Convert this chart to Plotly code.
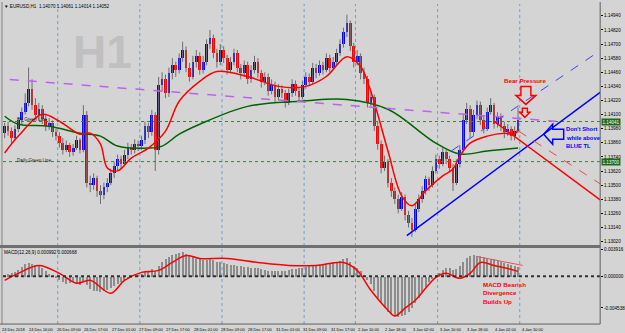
import plotly.graph_objects as go

W, H = 625, 333

# ---------------- data (EURUSD H1) ----------------
opens = [1.1394,1.1400,1.1396,1.1390,1.1398,1.1405,1.1412,1.1420,1.1432,1.1418,
         1.1410,1.1415,1.1406,1.1400,1.1403,1.1395,1.1392,1.1386,1.1380,1.1384,
         1.1378,1.1382,1.1388,1.1380,1.1410,1.1352,1.1350,1.1356,1.1345,1.1342,
         1.1348,1.1352,1.1360,1.1366,1.1372,1.1368,1.1376,1.1382,1.1380,1.1385,
         1.1383,1.1388,1.1400,1.1395,1.1410,1.1380,1.1435,1.1440,1.1428,1.1445,
         1.1452,1.1448,1.1458,1.1465,1.1450,1.1442,1.1455,1.1460,1.1448,1.1455,
         1.1470,1.1475,1.1462,1.1455,1.1465,1.1458,1.1448,1.1455,1.1462,1.1450,
         1.1445,1.1452,1.1440,1.1448,1.1455,1.1445,1.1438,1.1442,1.1430,1.1435,
         1.1425,1.1432,1.1428,1.1420,1.1428,1.1436,1.1430,1.1425,1.1435,1.1442,
         1.1438,1.1450,1.1445,1.1452,1.1448,1.1458,1.1450,1.1455,1.1462,1.1470,
         1.1480,1.1488,1.1468,1.1455,1.1460,1.1445,1.1440,1.1420,1.1425,1.1400,
         1.1385,1.1365,1.1370,1.1352,1.1345,1.1338,1.1330,1.1340,1.1325,1.1318,
         1.1312,1.1330,1.1338,1.1345,1.1355,1.1350,1.1362,1.1372,1.1368,1.1378,
         1.1372,1.1365,1.1352,1.1368,1.1380,1.1405,1.1415,1.1395,1.1410,1.1418,
         1.1405,1.1398,1.1412,1.1418,1.1402,1.1408,1.1400,1.1395,1.1398,1.1392,
         1.1396]
highs = [1.1403,1.1404,1.1399,1.1401,1.1408,1.1416,1.1428,1.1450,1.1440,1.1424,
         1.1420,1.1418,1.1410,1.1407,1.1405,1.1398,1.1395,1.1390,1.1388,1.1386,
         1.1385,1.1392,1.1390,1.1418,1.1413,1.1358,1.1360,1.1358,1.1350,1.1352,
         1.1356,1.1364,1.1370,1.1376,1.1375,1.1380,1.1386,1.1385,1.1389,1.1388,
         1.1392,1.1404,1.1403,1.1414,1.1412,1.1442,1.1446,1.1444,1.1450,1.1458,
         1.1455,1.1462,1.1472,1.1468,1.1454,1.1460,1.1465,1.1463,1.1460,1.1474,
         1.1482,1.1478,1.1466,1.1470,1.1468,1.1461,1.1459,1.1466,1.1465,1.1453,
         1.1456,1.1455,1.1452,1.1460,1.1458,1.1448,1.1446,1.1445,1.1440,1.1438,
         1.1436,1.1435,1.1431,1.1432,1.1440,1.1439,1.1433,1.1439,1.1446,1.1445,
         1.1454,1.1453,1.1456,1.1455,1.1462,1.1461,1.1459,1.1466,1.1474,1.1484,
         1.1495,1.1490,1.1471,1.1465,1.1462,1.1450,1.1443,1.1430,1.1427,1.1404,
         1.1388,1.1375,1.1372,1.1356,1.1348,1.1342,1.1344,1.1342,1.1328,1.1322,
         1.1334,1.1342,1.1349,1.1358,1.1357,1.1366,1.1376,1.1375,1.1382,1.1380,
         1.1375,1.1368,1.1372,1.1384,1.1410,1.1420,1.1418,1.1414,1.1422,1.1421,
         1.1409,1.1416,1.1424,1.1420,1.1412,1.1411,1.1404,1.1402,1.1400,1.1400,
         1.1416]
lows = [1.1390,1.1392,1.1386,1.1388,1.1395,1.1402,1.1410,1.1417,1.1414,1.1406,
        1.1405,1.1402,1.1396,1.1397,1.1391,1.1388,1.1382,1.1376,1.1378,1.1374,
        1.1375,1.1380,1.1377,1.1378,1.1348,1.1344,1.1346,1.1340,1.1334,1.1338,
        1.1344,1.1350,1.1356,1.1362,1.1364,1.1366,1.1372,1.1376,1.1377,1.1379,
        1.1380,1.1385,1.1390,1.1392,1.1362,1.1376,1.1430,1.1424,1.1425,1.1440,
        1.1442,1.1445,1.1455,1.1446,1.1438,1.1440,1.1450,1.1444,1.1445,1.1452,
        1.1466,1.1458,1.1450,1.1452,1.1454,1.1444,1.1445,1.1452,1.1446,1.1440,
        1.1442,1.1436,1.1437,1.1445,1.1441,1.1433,1.1435,1.1426,1.1427,1.1420,
        1.1422,1.1424,1.1416,1.1418,1.1425,1.1426,1.1421,1.1423,1.1432,1.1434,
        1.1436,1.1441,1.1443,1.1444,1.1446,1.1446,1.1448,1.1452,1.1460,1.1467,
        1.1476,1.1464,1.1450,1.1452,1.1440,1.1436,1.1416,1.1417,1.1396,1.1380,
        1.1360,1.1362,1.1348,1.1340,1.1334,1.1326,1.1328,1.1320,1.1314,1.1306,
        1.1310,1.1327,1.1335,1.1342,1.1345,1.1348,1.1360,1.1364,1.1366,1.1368,
        1.1361,1.1345,1.1350,1.1365,1.1378,1.1402,1.1390,1.1392,1.1406,1.1401,
        1.1394,1.1396,1.1410,1.1398,1.1399,1.1396,1.1390,1.1392,1.1388,1.1388,
        1.1394]
closes = [1.1400,1.1396,1.1390,1.1398,1.1405,1.1412,1.1420,1.1432,1.1418,1.1410,
          1.1415,1.1406,1.1400,1.1403,1.1395,1.1392,1.1386,1.1380,1.1384,1.1378,
          1.1382,1.1388,1.1380,1.1410,1.1352,1.1350,1.1356,1.1345,1.1342,1.1348,
          1.1352,1.1360,1.1366,1.1372,1.1368,1.1376,1.1382,1.1380,1.1385,1.1383,
          1.1388,1.1400,1.1395,1.1410,1.1380,1.1435,1.1440,1.1428,1.1445,1.1452,
          1.1448,1.1458,1.1465,1.1450,1.1442,1.1455,1.1460,1.1448,1.1455,1.1470,
          1.1475,1.1462,1.1455,1.1465,1.1458,1.1448,1.1455,1.1462,1.1450,1.1445,
          1.1452,1.1440,1.1448,1.1455,1.1445,1.1438,1.1442,1.1430,1.1435,1.1425,
          1.1432,1.1428,1.1420,1.1428,1.1436,1.1430,1.1425,1.1435,1.1442,1.1438,
          1.1450,1.1445,1.1452,1.1448,1.1458,1.1450,1.1455,1.1462,1.1470,1.1480,
          1.1488,1.1468,1.1455,1.1460,1.1445,1.1440,1.1420,1.1425,1.1400,1.1385,
          1.1365,1.1370,1.1352,1.1345,1.1338,1.1330,1.1340,1.1325,1.1318,1.1312,
          1.1330,1.1338,1.1345,1.1355,1.1350,1.1362,1.1372,1.1368,1.1378,1.1372,
          1.1365,1.1352,1.1368,1.1380,1.1405,1.1415,1.1395,1.1410,1.1418,1.1405,
          1.1398,1.1412,1.1418,1.1402,1.1408,1.1400,1.1395,1.1398,1.1392,1.1396,
          1.1405]

# moving averages (bar index, price)
ema_bars = [0, 4, 11, 16, 22, 25, 28, 30, 33, 37, 42, 47, 51, 57, 62, 71, 80, 88, 94,
            100, 104, 107, 112, 116, 119, 123, 128, 131, 133, 136, 141, 146, 149, 150]
ema_vals = [1.13773, 1.13917, 1.14103, 1.14043, 1.13933, 1.13942, 1.13849, 1.13646,
            1.13621, 1.13730, 1.13815, 1.13959, 1.14213, 1.14382, 1.14466, 1.14424,
            1.14340, 1.14340, 1.14424, 1.14593, 1.14509, 1.14297, 1.13790, 1.13409,
            1.13325, 1.13451, 1.13578, 1.13637, 1.13747, 1.13857, 1.13917, 1.13942,
            1.13933, 1.13976]
sma_bars = [0, 4, 13, 22, 28, 33, 42, 46, 51, 57, 71, 86, 100, 112, 123, 126, 133, 141, 150]
sma_vals = [1.14086, 1.14018, 1.14001, 1.13942, 1.13917, 1.13832, 1.13815, 1.13832,
            1.13933, 1.14018, 1.14170, 1.14213, 1.14229, 1.14145, 1.13917, 1.13857,
            1.13764, 1.13790, 1.13815]

# MACD (12,26,9)
macd_main = [0.0003,0.0004,0.0005,0.0007,0.0010,0.0014,0.0018,0.0020,0.0019,0.0017,
             0.0015,0.0012,0.0008,0.0004,0.0001,-0.0002,-0.0005,-0.0008,-0.0010,-0.0009,
             -0.0008,-0.0010,-0.0012,-0.0006,-0.0012,-0.0018,-0.0020,-0.0021,-0.0022,-0.0021,
             -0.0019,-0.0016,-0.0013,-0.0010,-0.0008,-0.0005,-0.0003,-0.0001,0.0000,0.0002,
             0.0004,0.0007,0.0008,0.0011,0.0009,0.0016,0.0022,0.0025,0.0028,0.0031,
             0.0033,0.0034,0.0035,0.0033,0.0030,0.0028,0.0026,0.0025,0.0024,0.0024,
             0.0025,0.0024,0.0022,0.0021,0.0020,0.0018,0.0017,0.0017,0.0016,0.0015,
             0.0014,0.0014,0.0013,0.0013,0.0012,0.0011,0.0010,0.0009,0.0009,0.0008,
             0.0008,0.0008,0.0009,0.0010,0.0011,0.0011,0.0012,0.0013,0.0014,0.0015,
             0.0016,0.0016,0.0017,0.0018,0.0019,0.0020,0.0021,0.0022,0.0023,0.0025,
             0.0027,0.0022,0.0016,0.0012,0.0008,0.0002,-0.0005,-0.0010,-0.0020,-0.0030,
             -0.0038,-0.0045,-0.0050,-0.0054,-0.0057,-0.0058,-0.0057,-0.0055,-0.0050,-0.0045,
             -0.0038,-0.0030,-0.0022,-0.0015,-0.0008,-0.0003,0.0002,0.0006,0.0010,0.0012,
             0.0012,0.0010,0.0011,0.0016,0.0022,0.0027,0.0030,0.0031,0.0030,0.0030,
             0.0028,0.0027,0.0026,0.0025,0.0023,0.0022,0.0020,0.0018,0.0017,0.0015,
             0.0014]
sig_bars = [0, 4, 10, 16, 21, 25, 31, 35, 40, 45, 49, 53, 57, 65, 74, 83, 91, 99, 103,
            107, 112, 114, 117, 120, 126, 129, 133, 136, 139, 143, 147, 150]
sig_vals = [-0.00057, 0.00043, 0.00157, 0.00043, -0.00100, -0.00057, -0.00243, -0.00057,
            0.00057, 0.00086, 0.00200, 0.00300, 0.00257, 0.00257, 0.00200, 0.00157,
            0.00157, 0.00200, 0.00086, -0.00200, -0.00486, -0.00571, -0.00457, -0.00343,
            -0.00014, 0.00043, -0.00029, 0.00043, 0.00200, 0.00157, 0.00114, 0.00071]

# axis labels
price_ticks = [1.14940, 1.14820, 1.14700, 1.14580, 1.14460, 1.14340, 1.14220, 1.14100,
               1.13980, 1.13860, 1.13740, 1.13620, 1.13500, 1.13380, 1.13260, 1.13140, 1.13020]
macd_ticks = [0.003916, 0.0, -0.004538]
macd_tick_text = ["0.003916", "0.000000", "-0.004538"]
time_labels = ["24 Dec 2018", "24 Dec 16:00", "26 Dec 09:00", "26 Dec 17:00", "27 Dec 01:00",
               "27 Dec 09:00", "27 Dec 17:00", "28 Dec 01:00", "28 Dec 09:00", "28 Dec 17:00",
               "31 Dec 01:00", "31 Dec 09:00", "31 Dec 17:00", "2 Jan 10:00", "2 Jan 18:00",
               "3 Jan 02:00", "3 Jan 10:00", "3 Jan 18:00", "4 Jan 02:00", "4 Jan 10:00"]
time_label_bars = [-1.5, 6.5, 14.5, 22.5, 30.5, 38.5, 46.5, 54.5, 62.5, 70.5,
                   78.5, 86.5, 94.5, 102.5, 110.5, 118.5, 126.5, 134.5, 142.5, 150.5]
day_sep_bars = [15.5, 39.5, 63.5, 87.5, 102.5, 126.5, 150.5]

# chart objects (bar index, price)
h4_green_level = 1.14041
daily_green_level = 1.13700
purple_tl = [(1.5, 1.14399), (161.0, 1.14043)]
blue_tl = [(117.5, 1.13071), (174.0, 1.14289)]
blue_dash_tl = [(130.5, 1.13790), (174.0, 1.14644)]
red_tl = [(143.0, 1.14043), (174.0, 1.13375)]
red_dash_tl = [(150.2, 1.13959), (174.0, 1.13511)]
macd_div_line = [(137.8, 0.00286), (151.4, 0.00157)]

# ---------------- layout geometry (pixels) ----------------
X0, X1 = 3, 605
XR = (-0.49, 174.0)
MAIN_T, MAIN_B = 2, 245
MACD_T, MACD_B = 248, 324
def px(x): return x / W
def py(y): return 1 - y / H
def bar_px(b): return X0 + (b - XR[0]) * (X1 - X0) / (XR[1] - XR[0])

BG = "#d4d4d4"
FONT = "Liberation Sans"

fig = go.Figure()

# wicks
wx, wy = [], []
for i in range(len(closes)):
    wx += [i, i, None]
    wy += [lows[i], highs[i], None]
fig.add_trace(go.Scatter(x=wx, y=wy, mode="lines", line=dict(color="#6e6e6e", width=1),
                         hoverinfo="skip", showlegend=False, xaxis="x", yaxis="y"))
up = [i for i in range(len(closes)) if closes[i] >= opens[i]]
dn = [i for i in range(len(closes)) if closes[i] < opens[i]]
fig.add_trace(go.Bar(x=up, y=[closes[i] - opens[i] for i in up], base=[opens[i] for i in up],
                     width=0.8, marker=dict(color="#0000ff", line=dict(width=0)),
                     showlegend=False, xaxis="x", yaxis="y"))
fig.add_trace(go.Bar(x=dn, y=[opens[i] - closes[i] for i in dn], base=[closes[i] for i in dn],
                     width=0.8, marker=dict(color="#ff0000", line=dict(width=0)),
                     showlegend=False, xaxis="x", yaxis="y"))
# MAs
fig.add_trace(go.Scatter(x=sma_bars, y=sma_vals, mode="lines", line=dict(color="#006400", width=1.5, shape="spline"),
                         showlegend=False, xaxis="x", yaxis="y"))
fig.add_trace(go.Scatter(x=ema_bars, y=ema_vals, mode="lines", line=dict(color="#ff0000", width=1.5, shape="spline"),
                         showlegend=False, xaxis="x", yaxis="y"))
# MACD
fig.add_trace(go.Bar(x=list(range(len(macd_main))), y=macd_main, width=0.3,
                     marker=dict(color="#8c8c8c", line=dict(width=0)),
                     showlegend=False, xaxis="x", yaxis="y2"))
fig.add_trace(go.Scatter(x=sig_bars, y=sig_vals, mode="lines", line=dict(color="#ff0000", width=1.5, shape="spline"),
                         showlegend=False, xaxis="x", yaxis="y2"))
fig.add_trace(go.Scatter(x=[p[0] for p in macd_div_line], y=[p[1] for p in macd_div_line], mode="lines",
                         line=dict(color="#f05050", width=1), showlegend=False, xaxis="x", yaxis="y2"))

shapes = []
# day separators
for b in day_sep_bars:
    shapes.append(dict(type="line", xref="x", yref="paper", x0=b, x1=b, y0=py(MACD_B), y1=py(MAIN_T),
                       line=dict(color="#6a9fd8", width=1, dash="dot"), layer="below"))
# horizontal levels
for lvl in (h4_green_level, daily_green_level):
    shapes.append(dict(type="line", xref="paper", yref="y", x0=px(X0), x1=px(X1), y0=lvl, y1=lvl,
                       line=dict(color="#2e8b2e", width=1, dash="dot")))
# trend lines
def tl(pts, color, width, dash="solid", yref="y"):
    shapes.append(dict(type="line", xref="x", yref=yref, x0=pts[0][0], y0=pts[0][1],
                       x1=pts[1][0], y1=pts[1][1], line=dict(color=color, width=width, dash=dash)))
tl(purple_tl, "#c060f0", 1.5, "dash")
tl(blue_tl, "#0000ff", 1.5)
tl(blue_dash_tl, "#4040ff", 1, "dash")
tl(red_tl, "#ff0000", 1.5)
tl(red_dash_tl, "#ff4040", 1, "dash")
# MACD zero line
shapes.append(dict(type="line", xref="paper", yref="y2", x0=px(X0), x1=px(X1), y0=0, y1=0,
                   line=dict(color="#303030", width=2, dash="dot")))
# arrows (anchored at chart coordinates, drawn in pixels)
def arrow(bar, price, path, color):
    shapes.append(dict(type="path", xref="x", yref="y", xsizemode="pixel", ysizemode="pixel",
                       xanchor=bar, yanchor=price, path=path, line=dict(color=color, width=1.5),
                       fillcolor="rgba(0,0,0,0)"))
arrow(152.3, 1.14340, "M -5 0 L 5 0 L 5 -9 L 10 -9 L 0 -18 L -10 -9 L -5 -9 Z", "#ff0000")
arrow(152.0, 1.14153, "M -2.5 0 L 2.5 0 L 2.5 -4 L 5 -4 L 0 -9 L -5 -4 L -2.5 -4 Z", "#ff0000")
arrow(157.5, 1.13933, "M 0 0 L 9 10 L 9 5 L 20 5 L 20 -5 L 9 -5 L 9 -10 Z", "#0000ff")
# frames
shapes.append(dict(type="line", xref="paper", yref="paper", x0=px(X1), x1=px(X1), y0=py(MACD_B), y1=py(0),
                   line=dict(color="#606060", width=1)))
shapes.append(dict(type="line", xref="paper", yref="paper", x0=px(2), x1=px(2), y0=py(MACD_B), y1=py(0),
                   line=dict(color="#808080", width=1)))
shapes.append(dict(type="line", xref="paper", yref="paper", x0=px(0), x1=px(X1), y0=py(246), y1=py(246),
                   line=dict(color="#707070", width=3)))
shapes.append(dict(type="line", xref="paper", yref="paper", x0=px(0), x1=px(X1), y0=py(MACD_B), y1=py(MACD_B),
                   line=dict(color="#606060", width=1)))

ann = []
def text(x, y, s, size, color="#000000", bold=False, xa="left", ya="middle", font=FONT):
    ann.append(dict(xref="paper", yref="paper", x=px(x), y=py(y), text=("<b>%s</b>" % s) if bold else s,
                    showarrow=False, xanchor=xa, yanchor=ya, font=dict(size=size, color=color, family=font)))
text(103, 50, "H1", 46, "#c0c0c0", True, "center", "middle", "Liberation Sans")
text(2, 5, "▼ EURUSD,H1  1.14070 1.14061 1.14014 1.14052", 4.6)
text(15, 118, "H4 Green Line", 4.6, "#202020")
text(15, 159, "Daily Green Line", 4.6, "#202020")
text(2, 252, "MACD(12,26,9) 0.000992 0.000668", 4.6)
text(530, 79, "Bear Pressure", 6.2, "#ff0000", True, "center")
text(569, 128, "Don't Short", 5.8, "#0000ff", True)
text(569, 136.5, "while above", 5.8, "#0000ff", True)
text(569, 145, "BLUE TL", 5.8, "#0000ff", True)
text(485, 284, "MACD Bearish", 6.2, "#ff0000", True)
text(485, 292.5, "Divergence", 6.2, "#ff0000", True)
text(485, 301, "Builds Up", 6.2, "#ff0000", True)
# time axis labels
for lab, b in zip(time_labels, time_label_bars):
    text(max(bar_px(b), 0) + 0.5, 329, lab, 4.0, "#000000")
# price boxes
for lvl in (h4_green_level, daily_green_level):
    ann.append(dict(xref="paper", yref="y", x=px(606), y=lvl, text="%.5f" % lvl, showarrow=False,
                    xanchor="left", yanchor="middle", bgcolor="#1d6b1d", borderpad=0.5,
                    font=dict(size=4.6, family=FONT, color="#ffffff")))

fig.update_layout(
    width=W, height=H, margin=dict(l=0, r=0, t=0, b=0),
    paper_bgcolor=BG, plot_bgcolor=BG, barmode="overlay", bargap=0,
    showlegend=False, shapes=shapes, annotations=ann,
    xaxis=dict(domain=[px(X0), px(X1)], range=list(XR), anchor="y2",
               showticklabels=False, showgrid=False, zeroline=False, showline=False, ticks=""),
    yaxis=dict(domain=[py(MAIN_B), py(MAIN_T)], range=[1.12986, 1.15041], side="right",
               anchor="x", showgrid=False, zeroline=False, showline=False,
               tickvals=price_ticks, ticktext=["%.5f" % v for v in price_ticks],
               ticks="outside", ticklen=2, tickcolor="#000", tickfont=dict(size=4.6, family=FONT, color="#000")),
    yaxis2=dict(domain=[py(MACD_B), py(MACD_T)], range=[-0.006857, 0.004], side="right",
                anchor="x", showgrid=False, zeroline=False, showline=False,
                tickvals=macd_ticks, ticktext=macd_tick_text,
                ticks="outside", ticklen=2, tickcolor="#000", tickfont=dict(size=4.6, family=FONT, color="#000")),
)
fig.write_html("out.html")
